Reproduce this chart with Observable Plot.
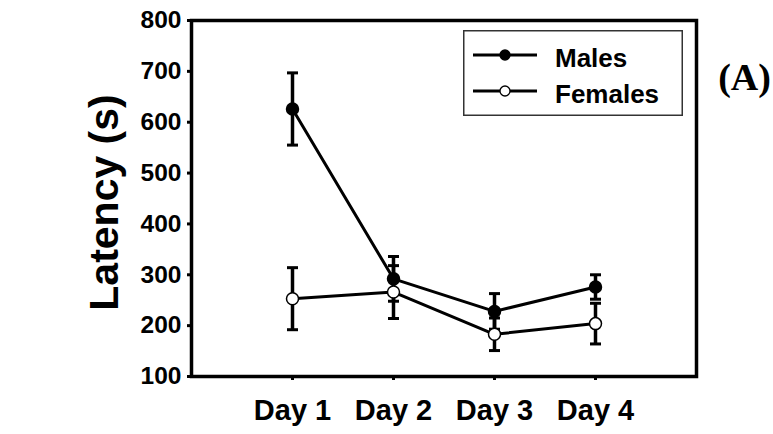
<!DOCTYPE html>
<html>
<head>
<meta charset="utf-8">
<script src="https://cdn.jsdelivr.net/npm/d3@7"></script>
<script src="https://cdn.jsdelivr.net/npm/@observablehq/plot@0.6"></script>
<style>
  html, body { margin: 0; padding: 0; background: #fff; }
  #wrap { position: relative; width: 773px; height: 434px; }
  #legend { position: absolute; left: 463px; top: 30px; }
</style>
</head>
<body>
<div id="wrap"></div>
<script>
// ---- data ----
const days = ["Day 1", "Day 2", "Day 3", "Day 4"];
const dayIndex = [1, 2, 3, 4];
const males = [626, 292, 228, 276];
const malesSem = [71, 44, 35, 24];
const females = [253, 266, 183, 204];
const femalesSem = [61, 52, 32, 40];
const yTicks = [100, 200, 300, 400, 500, 600, 700, 800];
const seriesNames = ["Males", "Females"];
const yLabel = "Latency (s)";
const panelLabel = "(A)";

const rows = (vals, sems, name) => dayIndex.map((d, i) => ({
  day: d, value: vals[i], lo: vals[i] - sems[i], hi: vals[i] + sems[i], series: name
}));
const maleRows = rows(males, malesSem, seriesNames[0]);
const femaleRows = rows(females, femalesSem, seriesNames[1]);

// horizontal cap symbol for error bars
const cap = {
  draw(context, size) {
    const w = Math.sqrt(size / Math.PI);
    context.moveTo(-w, 0);
    context.lineTo(w, 0);
  }
};

const seriesMarks = (data, fill) => [
  Plot.ruleX(data, {x: "day", y1: "lo", y2: "hi", stroke: "black", strokeWidth: 3.5}),
  Plot.dot(data, {x: "day", y: "hi", symbol: cap, r: 5.5, stroke: "black", strokeWidth: 3, fill: "none"}),
  Plot.dot(data, {x: "day", y: "lo", symbol: cap, r: 5.5, stroke: "black", strokeWidth: 3, fill: "none"}),
  Plot.line(data, {x: "day", y: "value", stroke: "black", strokeWidth: 3}),
  Plot.dot(data, {x: "day", y: "value", r: 6, fill, stroke: "black", strokeWidth: 1.5})
];

const chart = Plot.plot({
  width: 773,
  height: 434,
  marginLeft: 191,
  marginRight: 77,
  marginTop: 20,
  marginBottom: 58,
  style: {fontFamily: "'Liberation Sans', Arial, sans-serif", fontWeight: "bold", color: "black", background: "white", overflow: "visible"},
  x: {domain: [0, 5]},
  y: {domain: [100, 800]},
  marks: [
    Plot.axisY({ticks: yTicks, tickSize: 4, tickPadding: 6, fontSize: 24.5, strokeWidth: 3, label: null}),
    Plot.axisX({ticks: dayIndex, tickFormat: d => days[d - 1], tickSize: 4, tickPadding: 19, fontSize: 29, strokeWidth: 3, label: null}),
    ...seriesMarks(maleRows, "black"),
    ...seriesMarks(femaleRows, "white"),
    Plot.frame({stroke: "black", strokeWidth: 3.5}),
    Plot.text([yLabel], {frameAnchor: "left", textAnchor: "middle", dx: -87, dy: 4, rotate: -90, fontSize: 41, fontWeight: "bold", fill: "black"}),
    Plot.text([panelLabel], {frameAnchor: "top-right", textAnchor: "middle", dx: 48, dy: 43, fontSize: 38, fontWeight: "bold", fontFamily: "'Liberation Serif', 'Times New Roman', serif", fill: "black"})
  ]
});

const wrap = document.getElementById("wrap");
wrap.appendChild(chart);

// legend (HTML overlay drawn with inline SVG)
const legend = document.createElement("div");
legend.id = "legend";
const lw = 220, lh = 86;
const entries = seriesNames.map((name, i) => {
  const y = 25 + i * 36;
  const fill = i === 0 ? "black" : "white";
  return `<line x1="10" x2="74" y1="${y}" y2="${y}" stroke="black" stroke-width="3"/>
    <circle cx="42" cy="${y}" r="5" fill="${fill}" stroke="black" stroke-width="1.3"/>
    <text x="92" y="${y + 12}" font-size="26" font-weight="bold" font-family="'Liberation Sans', Arial, sans-serif">${name}</text>`;
}).join("");
legend.innerHTML = `<svg width="${lw}" height="${lh}" xmlns="http://www.w3.org/2000/svg">
  <rect x="0.75" y="0.75" width="${lw - 1.5}" height="${lh - 1.5}" fill="white" stroke="#333" stroke-width="1.5"/>
  ${entries}
</svg>`;
wrap.appendChild(legend);
</script>
</body>
</html>
